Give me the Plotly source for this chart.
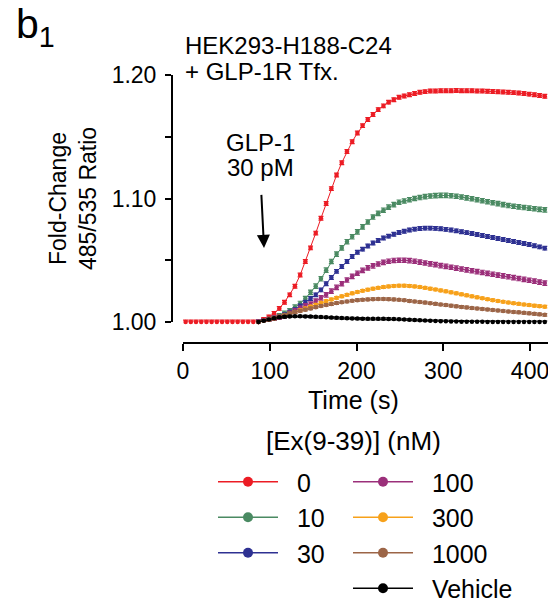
import plotly.graph_objects as go

# ---------------- data ----------------
time_all = list(range(3, 418, 6))      # 0 nM series sampled from the start
time_after = list(range(87, 418, 6))   # other series start at GLP-1 addition

ratio_0 = [1.000, 1.000, 1.000, 1.000, 1.000, 1.000, 1.000, 1.000, 1.000, 1.000,
           1.000, 1.000, 1.000, 1.000, 1.000,
           1.002, 1.004, 1.007, 1.011, 1.016, 1.022, 1.029, 1.038, 1.049, 1.060,
           1.072, 1.084, 1.096, 1.108, 1.119, 1.129, 1.138, 1.146, 1.153, 1.159,
           1.164, 1.168, 1.172, 1.175, 1.178, 1.180, 1.182, 1.183, 1.184, 1.185,
           1.186, 1.1865, 1.187, 1.187, 1.1872, 1.1873, 1.1873, 1.1874, 1.1873, 1.1873,
           1.1872, 1.1871, 1.187, 1.1868, 1.1866, 1.1864, 1.1862, 1.186, 1.1857, 1.1854,
           1.185, 1.1845, 1.184, 1.1834, 1.1828]

ratio_10 = [1.000, 1.001, 1.002, 1.003, 1.005, 1.007, 1.009, 1.012, 1.015, 1.019,
            1.024, 1.029, 1.035, 1.042, 1.049, 1.055, 1.060, 1.065, 1.069, 1.073,
            1.077, 1.081, 1.085, 1.088, 1.0905, 1.093, 1.095, 1.097, 1.098, 1.099,
            1.100, 1.1008, 1.1015, 1.102, 1.1023, 1.1025, 1.1025, 1.1022, 1.1018, 1.1012,
            1.1005, 1.0998, 1.099, 1.0982, 1.0974, 1.0966, 1.0958, 1.095, 1.0943, 1.0937,
            1.0932, 1.0927, 1.0922, 1.0917, 1.0912, 1.0908]

ratio_30 = [1.000, 1.001, 1.002, 1.003, 1.004, 1.006, 1.008, 1.010, 1.013, 1.016,
            1.019, 1.022, 1.026, 1.031, 1.036, 1.041, 1.045, 1.049, 1.053, 1.0565,
            1.059, 1.0615, 1.064, 1.066, 1.068, 1.0695, 1.071, 1.0725, 1.0735, 1.0745,
            1.0752, 1.0757, 1.076, 1.076, 1.0758, 1.0755, 1.075, 1.0745, 1.0738, 1.0731,
            1.0724, 1.0716, 1.0708, 1.070, 1.0692, 1.0684, 1.0676, 1.0668, 1.066, 1.0652,
            1.0644, 1.0636, 1.0627, 1.0618, 1.0608, 1.0598]

ratio_100 = [1.000, 1.001, 1.002, 1.003, 1.004, 1.005, 1.007, 1.009, 1.011, 1.013,
             1.0145, 1.017, 1.0195, 1.022, 1.025, 1.028, 1.031, 1.034, 1.037, 1.0395,
             1.0418, 1.0438, 1.0455, 1.047, 1.0483, 1.0492, 1.0498, 1.050, 1.050, 1.0497,
             1.0492, 1.0485, 1.0478, 1.0471, 1.0464, 1.0457, 1.045, 1.0443, 1.0436, 1.0429,
             1.0422, 1.0415, 1.0408, 1.0401, 1.0394, 1.0387, 1.038, 1.0373, 1.0366, 1.0359,
             1.0352, 1.0345, 1.0338, 1.0331, 1.0323, 1.0315]

ratio_300 = [1.000, 1.001, 1.002, 1.003, 1.004, 1.005, 1.0065, 1.008, 1.0095, 1.011,
             1.0125, 1.014, 1.0155, 1.017, 1.0183, 1.0196, 1.0208, 1.022, 1.0232, 1.0243,
             1.0253, 1.0262, 1.027, 1.0277, 1.0283, 1.0288, 1.0292, 1.0294, 1.0294, 1.0292,
             1.0288, 1.0283, 1.0277, 1.027, 1.0263, 1.0256, 1.0248, 1.024, 1.0232, 1.0224,
             1.0216, 1.0208, 1.020, 1.0192, 1.0184, 1.0177, 1.017, 1.0164, 1.0158, 1.0152,
             1.0147, 1.0142, 1.0137, 1.0132, 1.0128, 1.0124]

ratio_1000 = [1.000, 1.001, 1.002, 1.003, 1.0045, 1.0058, 1.007, 1.008, 1.009, 1.010,
              1.011, 1.012, 1.013, 1.0138, 1.0145, 1.0153, 1.016, 1.0166, 1.0172, 1.0177,
              1.018, 1.0183, 1.0185, 1.0186, 1.0186, 1.0185, 1.0183, 1.018, 1.0176, 1.0171,
              1.0166, 1.0161, 1.0157, 1.0152, 1.0147, 1.0142, 1.0137, 1.0132, 1.0127, 1.0122,
              1.0118, 1.0113, 1.0109, 1.0105, 1.0101, 1.0097, 1.0093, 1.0089, 1.0085, 1.0081,
              1.0078, 1.0074, 1.007, 1.0066, 1.0062, 1.0058]

ratio_vehicle = [1.000, 1.001, 1.002, 1.003, 1.0038, 1.0042, 1.0045, 1.0046, 1.0046, 1.0045,
                 1.0044, 1.0042, 1.004, 1.0038, 1.0036, 1.0034, 1.0032, 1.003, 1.0029, 1.0028,
                 1.0027, 1.0026, 1.0026, 1.0026, 1.0026, 1.0025, 1.0024, 1.0022, 1.002, 1.0018,
                 1.0016, 1.0014, 1.0012, 1.001, 1.0008, 1.0007, 1.0006, 1.0005, 1.0004, 1.0003,
                 1.0003, 1.0002, 1.0002, 1.0002, 1.0001, 1.0001, 1.0001, 1.0001, 1.000, 1.000,
                 1.000, 1.000, 1.000, 1.000, 1.000, 1.000]

series_names = ["0", "10", "30", "100", "300", "1000", "Vehicle"]
series_values = [ratio_0, ratio_10, ratio_30, ratio_100, ratio_300, ratio_1000, ratio_vehicle]
series_sem = [0.0015, 0.0018, 0.0015, 0.0018, 0.0010, 0.0010, 0.0008]
series_colors = ["#ec1c24", "#4a8a62", "#2e3192", "#9b2f7a", "#f7a11a", "#9c6547", "#000000"]
legend_ids = ["legend", "legend", "legend", "legend2", "legend2", "legend2", "legend2"]

x_ticks = [0, 100, 200, 300, 400]
y_ticks = [1.00, 1.10, 1.20]
y_ticktext = ["1.00", "1.10", "1.20"]

W, H = 548, 603
FONT = "Liberation Sans, Arial, Helvetica, sans-serif"
NB = "\u00a0\u00a0"

fig = go.Figure()

for name, vals, sem, col in zip(series_names, series_values, series_sem, series_colors):
    xs = time_all if len(vals) == len(time_all) else time_after
    fig.add_trace(go.Scatter(
        x=xs, y=vals, mode="lines+markers", name=name, showlegend=False,
        line=dict(color=col, width=1),
        marker=dict(color=col, size=4.5, symbol="circle"),
        error_y=dict(type="constant", value=sem, color=col, thickness=1.2, width=2.5),
        cliponaxis=False,
    ))

# legend entries
for i, (name, col, lg) in enumerate(zip(series_names, series_colors, legend_ids)):
    fig.add_trace(go.Scatter(
        x=[None], y=[None], mode="lines+markers", name=NB + name,
        line=dict(color=col, width=1.5), marker=dict(color=col, size=10),
        legend=lg, legendgroup="g%d" % i, showlegend=True,
    ))

fig.update_layout(
    width=W, height=H,
    margin=dict(l=0, r=0, t=0, b=0, autoexpand=False),
    paper_bgcolor="white", plot_bgcolor="white",
    font=dict(family=FONT, color="black", size=22),
    xaxis=dict(
        domain=[183 / W, 1.0], range=[0, 420.7], anchor="free", position=(H - 343) / H,
        showline=True, linecolor="black", linewidth=2,
        ticks="outside", ticklen=7, tickwidth=2, tickcolor="black",
        tickvals=x_ticks, tickfont=dict(size=23), showgrid=False, zeroline=False,
        automargin=False, ticklabeloverflow="allow",
    ),
    yaxis=dict(
        domain=[(H - 322) / H, (H - 75) / H], range=[1.0, 1.2], anchor="free",
        position=172 / W,
        showline=True, linecolor="black", linewidth=2,
        ticks="outside", ticklen=6, tickwidth=2, tickcolor="black",
        tickvals=y_ticks, ticktext=y_ticktext, tickfont=dict(size=23),
        ticklabelstandoff=4,
        minor=dict(ticks="outside", ticklen=6, tickwidth=2, tickcolor="black", dtick=0.05,
                   showgrid=False),
        showgrid=False, zeroline=False, automargin=False, ticklabeloverflow="allow",
        title=dict(text="Fold-Change<br>485/535 Ratio", font=dict(size=23), standoff=8),
    ),
    legend=dict(
        x=213 / W, y=1 - 459 / H, xanchor="left", yanchor="top",
        font=dict(size=25), itemwidth=60, tracegroupgap=0,
        bgcolor="rgba(0,0,0,0)", itemclick=False, itemdoubleclick=False,
    ),
    legend2=dict(
        x=348 / W, y=1 - 459 / H, xanchor="left", yanchor="top",
        font=dict(size=25), itemwidth=60, tracegroupgap=0,
        bgcolor="rgba(0,0,0,0)", itemclick=False, itemdoubleclick=False,
    ),
    showlegend=True,
)

fig.add_annotation(
    text="b<sub>1</sub>", xref="paper", yref="paper", x=15 / W, y=1.0,
    xanchor="left", yanchor="top", showarrow=False, font=dict(size=41), borderpad=0,
)
fig.add_annotation(
    text="HEK293-H188-C24", xref="paper", yref="paper",
    x=183 / W, y=1 - 46 / H, xanchor="left", yanchor="middle", align="left",
    showarrow=False, font=dict(size=24),
)
fig.add_annotation(
    text="+ GLP-1R Tfx.", xref="paper", yref="paper",
    x=183 / W, y=1 - 71 / H, xanchor="left", yanchor="middle", align="left",
    showarrow=False, font=dict(size=24),
)
fig.add_annotation(
    text="GLP-1", xref="paper", yref="paper", x=260 / W, y=1 - 142 / H,
    xanchor="center", yanchor="middle", showarrow=False, font=dict(size=24),
)
fig.add_annotation(
    text="30 pM", x=93.4, y=1.06, xref="x", yref="y",
    showarrow=True, ax=-4, ay=-80, arrowhead=2, arrowsize=1.3, arrowwidth=2,
    arrowcolor="black", startstandoff=12, font=dict(size=24),
)
fig.add_annotation(
    text="Time (s)", xref="paper", yref="paper", x=353 / W, y=1 - 400 / H,
    xanchor="center", yanchor="middle", showarrow=False, font=dict(size=25),
)
fig.add_annotation(
    text="[Ex(9-39)] (nM)", xref="paper", yref="paper", x=353 / W, y=1 - 441 / H,
    xanchor="center", yanchor="middle", showarrow=False, font=dict(size=26),
)

fig.write_html("out.html", config={"displayModeBar": False},
               post_script="document.body.style.margin='0px';")
